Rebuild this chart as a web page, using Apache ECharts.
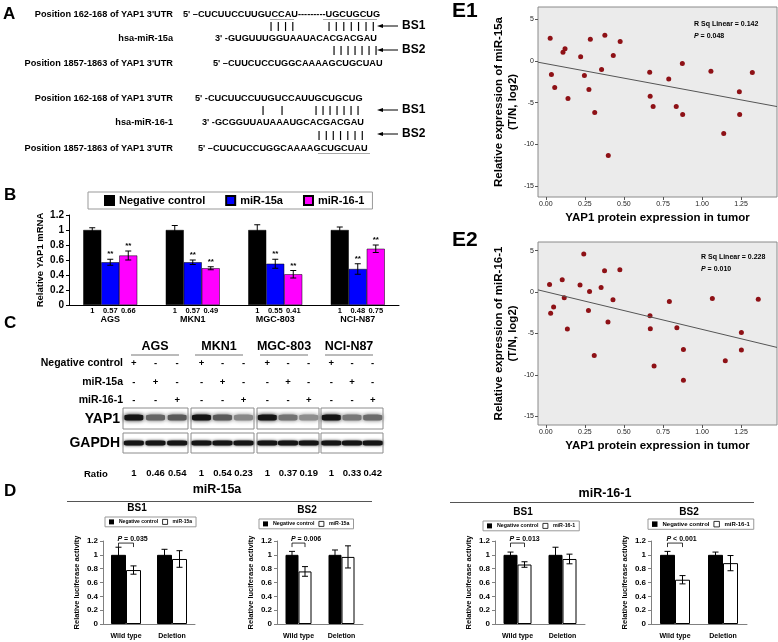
<!DOCTYPE html>
<html>
<head>
<meta charset="utf-8">
<script src="https://cdn.jsdelivr.net/npm/echarts@6/dist/echarts.min.js"></script>
<style>
  html, body { margin: 0; padding: 0; background: #fff; }
  #main { width: 778px; height: 642px; }
</style>
</head>
<body>
<div id="main"></div>
<script>
// ---- panel A: sequences ----
const seqRows = [
  ["Position 162-168 of YAP1 3'UTR", "5' \u2013CUCUUCCUUGUCCAU---------UGCUGCUG"],
  ["hsa-miR-15a", "3' -GUGUUUGGUAAUACACGACGAU"],
  ["Position 1857-1863 of YAP1 3'UTR", "5' \u2013CUUCUCCUGGCAAAAGCUGCUAU"],
  ["Position 162-168 of YAP1 3'UTR", "5' -CUCUUCCUUGUCCAUUGCUGCUG"],
  ["hsa-miR-16-1", "3' -GCGGUUAUAAAUGCACGACGAU"],
  ["Position 1857-1863 of YAP1 3'UTR", "5' \u2013CUUCUCCUGGCAAAAGCUGCUAU"]
];
const siteLabels = ["BS1", "BS2", "BS1", "BS2"];

// ---- panel B: qPCR ----
const cellLines = ["AGS", "MKN1", "MGC-803", "NCI-N87"];
const groupNames = ["Negative control", "miR-15a", "miR-16-1"];
const mrnaNC = [1, 1, 1, 1];
const mrna15a = [0.57, 0.57, 0.55, 0.48];
const mrna16 = [0.66, 0.49, 0.41, 0.75];
const errNC = [0.03, 0.06, 0.07, 0.04];
const err15a = [0.04, 0.03, 0.06, 0.07];
const err16 = [0.06, 0.02, 0.05, 0.05];

// ---- panel C: western blot ----
const treatRows = ["Negative control", "miR-15a", "miR-16-1"];
const treatSigns = [["+", "-", "-"], ["-", "+", "-"], ["-", "-", "+"]];
const yapRatio = [[1, 0.46, 0.54], [1, 0.54, 0.23], [1, 0.37, 0.19], [1, 0.33, 0.42]];

// ---- panel D: luciferase ----
const lucCats = ["Wild type", "Deletion"];
const lucHeads = ["miR-15a", "miR-16-1"];
const lucSite = ["BS1", "BS2", "BS1", "BS2"];
const lucMiRName = ["miR-15a", "miR-15a", "miR-16-1", "miR-16-1"];
const lucNC = [[1, 1], [1, 1], [1, 1], [1, 1]];
const lucNCErr = [[0.11, 0.08], [0.05, 0.07], [0.04, 0.11], [0.05, 0.04]];
const lucMiR = [[0.78, 0.94], [0.76, 0.97], [0.86, 0.94], [0.64, 0.88]];
const lucMiRErr = [[0.06, 0.12], [0.07, 0.16], [0.04, 0.07], [0.06, 0.11]];
const lucP = ["= 0.035", "= 0.006", "= 0.013", "< 0.001"];

// ---- panel E: correlation ----
const yapProt1 = [0.028, 0.036, 0.057, 0.11, 0.123, 0.142, 0.223, 0.247, 0.276, 0.285, 0.313, 0.357, 0.378, 0.40,
  0.432, 0.476, 0.665, 0.668, 0.687, 0.787, 0.835, 0.874, 0.876, 1.057, 1.139, 1.239, 1.241, 1.322];
const mir15a = [2.71, -1.64, -3.19, 1.04, 1.44, -4.51, 0.48, -1.76, -3.43, 2.59, -6.19, -1.04, 3.07, -11.34,
  0.64, 2.32, -1.36, -4.23, -5.47, -2.16, -5.47, -0.32, -6.43, -1.24, -8.70, -3.71, -6.43, -1.40];
const yapProt2 = [0.024, 0.031, 0.050, 0.105, 0.118, 0.138, 0.219, 0.243, 0.273, 0.280, 0.310, 0.354, 0.376, 0.398,
  0.430, 0.474, 0.667, 0.669, 0.693, 0.791, 0.839, 0.881, 0.881, 1.066, 1.149, 1.252, 1.252, 1.36];
const mir161 = [0.93, -2.54, -1.81, 1.49, -0.68, -4.47, 0.85, 4.59, -2.21, 0.08, -7.65, 0.56, 2.58, -3.62,
  -0.93, 2.70, -2.86, -4.43, -8.93, -1.13, -4.31, -6.92, -10.66, -0.76, -8.29, -4.87, -7.00, -0.85];
const fit1 = [[-0.05, -0.16], [1.48, -5.47]];
const fit2 = [[-0.05, 0.27], [1.48, -6.68]];
const eStats = [["R Sq Linear = 0.142", "= 0.048"], ["R Sq Linear = 0.228", "= 0.010"]];
const eTicksX = [0, 0.25, 0.5, 0.75, 1, 1.25];
const eTicksY = [-15, -10, -5, 0, 5];

const FONT = '"Liberation Sans", Arial, Helvetica, sans-serif';

function T(x, y, text, size, o) {
  o = o || {};
  const st = {
    text: text, x: x, y: y, fill: o.color || '#000',
    font: (o.italic ? 'italic ' : '') + (o.weight || 'bold') + ' ' + size + 'px ' + FONT,
    textAlign: o.align || 'left', textVerticalAlign: o.valign || 'middle'
  };
  if (text.indexOf('{i|') >= 0) {
    st.rich = { i: { fontStyle: 'italic', fontWeight: 'bold', fontSize: size, fontFamily: FONT } };
  }
  return { type: 'text', silent: true, z: 20, style: st };
}
function L(x1, y1, x2, y2, color, w) {
  return { type: 'line', silent: true, z: 20, shape: { x1: x1, y1: y1, x2: x2, y2: y2 },
    style: { stroke: color || '#000', lineWidth: w || 1 } };
}

// error bars drawn on top of grouped bars
function errSeries(axis, means, errs, offset, cap, star) {
  return {
    type: 'custom', xAxisIndex: axis, yAxisIndex: axis, silent: true, z: 5,
    data: means.map((m, i) => [i, m, errs[i]]),
    renderItem: function (params, api) {
      const c = api.value(0), m = api.value(1), e = api.value(2);
      const x = api.coord([c, m])[0] + offset;
      const yt = api.coord([c, m + e])[1], yb = api.coord([c, m - e])[1];
      const st = { stroke: '#000', lineWidth: 1 };
      const kids = [
        { type: 'line', shape: { x1: x, y1: yt, x2: x, y2: yb }, style: st },
        { type: 'line', shape: { x1: x - cap, y1: yt, x2: x + cap, y2: yt }, style: st },
        { type: 'line', shape: { x1: x - cap, y1: yb, x2: x + cap, y2: yb }, style: st }
      ];
      if (star) {
        kids.push({ type: 'text', style: { text: '**', x: x, y: yt - 1, textAlign: 'center',
          textVerticalAlign: 'bottom', font: 'bold 8px ' + FONT, fill: '#000' } });
      }
      return { type: 'group', children: kids };
    }
  };
}

const grids = [], xAxes = [], yAxes = [], series = [], legends = [], g = [];

// ---------- B ----------
grids.push({ left: 69, top: 215, width: 330, height: 90 });
xAxes.push({ gridIndex: 0, type: 'category', data: cellLines,
  axisLine: { lineStyle: { color: '#000' } }, axisTick: { length: 3, lineStyle: { color: '#000' } },
  axisLabel: { interval: 0, margin: 10, fontSize: 9, fontWeight: 'bold', color: '#000', fontFamily: FONT } });
yAxes.push({ gridIndex: 0, type: 'value', min: 0, max: 1.2, interval: 0.2,
  axisLine: { show: true, lineStyle: { color: '#000' } }, axisTick: { show: true, length: 3, lineStyle: { color: '#000' } },
  splitLine: { show: false },
  axisLabel: { fontSize: 10, fontWeight: 'bold', color: '#000', margin: 5, fontFamily: FONT },
  name: 'Relative YAP1 mRNA', nameLocation: 'middle', nameGap: 24,
  nameTextStyle: { fontSize: 9.5, fontWeight: 'bold', color: '#000', fontFamily: FONT } });
const bColors = ['#000000', '#0000ff', '#ff00ff'];
const bMeans = [mrnaNC, mrna15a, mrna16];
const bErrs = [errNC, err15a, err16];
const bBarW = 18;
bMeans.forEach((m, i) => {
  series.push({ type: 'bar', name: groupNames[i], xAxisIndex: 0, yAxisIndex: 0, data: m,
    barWidth: bBarW, barGap: '0%', itemStyle: { color: bColors[i], borderColor: '#000', borderWidth: 0.5 },
    label: { show: true, position: 'bottom', distance: 2, formatter: p => String(p.value),
      fontSize: 7.5, fontWeight: 'bold', color: '#000', fontFamily: FONT } });
});
bMeans.forEach((m, i) => series.push(errSeries(0, m, bErrs[i], (i - 1) * bBarW, 3, i > 0)));
legends.push({ left: 88, top: 192, data: groupNames, icon: 'rect', itemWidth: 9, itemHeight: 9, itemGap: 20,
  selectedMode: false, padding: [3, 8, 3, 16], borderColor: '#999', borderWidth: 1,
  textStyle: { fontSize: 11, fontWeight: 'bold', color: '#000', fontFamily: FONT } });

// ---------- C ----------
const blotBox = [[123, 65], [191, 63], [257, 62], [321, 62]];
function bandColor(r) {
  const v = Math.round(20 + (1 - r) * 150);
  return 'rgb(' + v + ',' + v + ',' + v + ')';
}
blotBox.forEach((b, k) => {
  const gi = grids.length;
  grids.push({ left: b[0], top: 408, width: b[1], height: 21, show: true, borderColor: '#8c8c8c',
    borderWidth: 1, backgroundColor: '#fff' });
  xAxes.push({ gridIndex: gi, type: 'category', data: ['a', 'b', 'c'], show: false });
  yAxes.push({ gridIndex: gi, type: 'value', min: 0, max: 1, show: false });
  series.push({ type: 'scatter', name: 'yap-band', xAxisIndex: gi, yAxisIndex: gi, silent: true,
    symbol: 'roundRect', symbolSize: [19, 6],
    data: yapRatio[k].map((r, j) => ({ value: [j, 0.55], itemStyle: { color: bandColor(r), opacity: 1,
      shadowBlur: 4, shadowColor: bandColor(r) } })) });
});
blotBox.forEach((b, k) => {
  const gi = grids.length;
  grids.push({ left: b[0], top: 433, width: b[1], height: 20, show: true, borderColor: '#8c8c8c',
    borderWidth: 1, backgroundColor: '#fff' });
  xAxes.push({ gridIndex: gi, type: 'category', data: yapRatio[k].map(String),
    axisLine: { show: false }, axisTick: { show: false },
    axisLabel: { interval: 0, margin: 15, fontSize: 9.5, fontWeight: 'bold', color: '#000', fontFamily: FONT } });
  yAxes.push({ gridIndex: gi, type: 'value', min: 0, max: 1, show: false });
  series.push({ type: 'scatter', name: 'gapdh-band', xAxisIndex: gi, yAxisIndex: gi, silent: true,
    symbol: 'roundRect', symbolSize: [20, 5],
    data: yapRatio[k].map((r, j) => ({ value: [j, 0.5], itemStyle: { color: '#151515', opacity: 1,
      shadowBlur: 3, shadowColor: '#333' } })) });
});

// ---------- D ----------
const lucGrid = [[103, 92, 15], [277, 86, 13], [495, 90, 14], [651, 96, 15]];
const lucLegend = [[105, 517, 5, 5], [259, 519, 5.3, 5], [483, 521, 5.3, 5], [648, 519, 6, 5.5]];
const bracketLevel = 1.17;
lucGrid.forEach((d, k) => {
  const gi = grids.length;
  const bw = d[2];
  grids.push({ left: d[0], top: 541, width: d[1], height: 83 });
  xAxes.push({ gridIndex: gi, type: 'category', data: lucCats,
    axisLine: { lineStyle: { color: '#808080' } }, axisTick: { length: 3, lineStyle: { color: '#808080' } },
    axisLabel: { interval: 0, margin: 9, fontSize: 7, fontWeight: 'bold', color: '#000', fontFamily: FONT } });
  yAxes.push({ gridIndex: gi, type: 'value', min: 0, max: 1.2, interval: 0.2,
    axisLine: { show: true, lineStyle: { color: '#808080' } },
    axisTick: { show: true, length: 3, lineStyle: { color: '#808080' } }, splitLine: { show: false },
    axisLabel: { fontSize: 8, fontWeight: 'bold', color: '#000', margin: 5, fontFamily: FONT },
    name: 'Relative luciferase activity', nameLocation: 'middle', nameGap: 22,
    nameTextStyle: { fontSize: 7.5, fontWeight: 'bold', color: '#000', fontFamily: FONT } });
  series.push({ type: 'bar', name: 'Negative control', xAxisIndex: gi, yAxisIndex: gi, data: lucNC[k],
    barWidth: bw, barGap: '0%', itemStyle: { color: '#000', borderColor: '#000', borderWidth: 1 } });
  series.push({ type: 'bar', name: lucMiRName[k], xAxisIndex: gi, yAxisIndex: gi, data: lucMiR[k],
    barWidth: bw, barGap: '0%', itemStyle: { color: '#fff', borderColor: '#000', borderWidth: 1 } });
  series.push(errSeries(gi, lucNC[k], lucNCErr[k], -bw / 2, 3, false));
  series.push(errSeries(gi, lucMiR[k], lucMiRErr[k], bw / 2, 3, false));
  series.push({ type: 'custom', xAxisIndex: gi, yAxisIndex: gi, silent: true, z: 6,
    data: [[0, bracketLevel]],
    renderItem: function (params, api) {
      const c = api.coord([api.value(0), api.value(1)]);
      const x1 = c[0] - bw / 2, x2 = c[0] + bw / 2, y = c[1];
      return { type: 'group', children: [
        { type: 'polyline', shape: { points: [[x1, y + 4], [x1, y], [x2, y], [x2, y + 4]] },
          style: { stroke: '#000', fill: 'none', lineWidth: 0.8 } },
        { type: 'text', style: { text: '{i|P} ' + lucP[k], x: x1 - 1, y: y - 1, textAlign: 'left',
          textVerticalAlign: 'bottom', font: 'bold 7px ' + FONT, fill: '#000',
          rich: { i: { fontStyle: 'italic', fontWeight: 'bold', fontSize: 7, fontFamily: FONT } } } }
      ] };
    } });
  const lg = lucLegend[k];
  legends.push({ left: lg[0], top: lg[1], icon: 'rect', itemWidth: lg[3], itemHeight: lg[3], itemGap: 4,
    selectedMode: false, padding: [2, 4, 2, 4], borderColor: '#999', borderWidth: 1,
    textStyle: { fontSize: lg[2], fontWeight: 'bold', color: '#000', fontFamily: FONT },
    data: [{ name: 'Negative control', itemStyle: { color: '#000', borderWidth: 0 } },
      { name: lucMiRName[k], itemStyle: { color: '#fff', borderColor: '#000', borderWidth: 0.8 } }] });
});

// ---------- E ----------
const eGrid = [[7, 190, -16.3, 6.45], [242, 183, -16.05, 6.05]];
const eX = [yapProt1, yapProt2], eY = [mir15a, mir161], eFit = [fit1, fit2];
const eName = ['Relative expression of miR-15a\n(T/N, log2)', 'Relative expression of miR-16-1\n(T/N, log2)'];
eGrid.forEach((d, k) => {
  const gi = grids.length;
  grids.push({ left: 538, top: d[0], width: 239, height: d[1], show: true, backgroundColor: '#ebebeb',
    borderColor: '#8a8a8a', borderWidth: 1 });
  xAxes.push({ gridIndex: gi, type: 'value', min: -0.05, max: 1.48, position: 'bottom',
    axisLine: { show: false, onZero: false }, splitLine: { show: false },
    axisTick: { show: true, customValues: eTicksX, length: 3, lineStyle: { color: '#555' } },
    axisLabel: { customValues: eTicksX, formatter: v => v.toFixed(2), fontSize: 7, color: '#222',
      margin: 4, fontFamily: FONT },
    name: 'YAP1 protein expression in tumor', nameLocation: 'middle', nameGap: 15,
    nameTextStyle: { fontSize: 11.5, fontWeight: 'bold', color: '#000', fontFamily: FONT } });
  yAxes.push({ gridIndex: gi, type: 'value', min: d[2], max: d[3], position: 'left',
    axisLine: { show: false, onZero: false }, splitLine: { show: false },
    axisTick: { show: true, customValues: eTicksY, length: 3, lineStyle: { color: '#555' } },
    axisLabel: { customValues: eTicksY, fontSize: 7, color: '#222', margin: 4, fontFamily: FONT },
    name: eName[k], nameLocation: 'middle', nameGap: 16,
    nameTextStyle: { fontSize: 11.5, fontWeight: 'bold', color: '#000', lineHeight: 14, fontFamily: FONT } });
  series.push({ type: 'scatter', name: 'pts' + k, xAxisIndex: gi, yAxisIndex: gi, symbolSize: 5,
    itemStyle: { color: '#8e1116', opacity: 1 }, data: eX[k].map((x, i) => [x, eY[k][i]]) });
  series.push({ type: 'line', name: 'fit' + k, xAxisIndex: gi, yAxisIndex: gi, data: eFit[k], symbol: 'none',
    lineStyle: { color: '#555', width: 1 }, silent: true });
});

// ---------- graphic text ----------
// panel letters
g.push(T(3, 14, 'A', 17), T(4, 195, 'B', 17), T(4, 323, 'C', 17), T(4, 491, 'D', 17));
g.push(T(452, 11, 'E1', 21), T(452, 240, 'E2', 21));

// A
const seqY = [14, 38, 63, 98, 122, 148];
const seqX = [183, 215, 213, 195, 202, 198];
seqRows.forEach((r, i) => {
  g.push(T(173, seqY[i], r[0], 9.2, { align: 'right' }));
  g.push(T(seqX[i], seqY[i], r[1], 9.2));
});
const pairRows = [
  [26, [[271, 4, 7.3], [329, 7, 7.4]]],
  [50, [[334, 7, 7.0]]],
  [110, [[263, 1, 0], [282, 1, 0], [316, 7, 7.0]]],
  [135, [[319, 7, 7.2]]]
];
pairRows.forEach(pr => pr[1].forEach(s => {
  for (let j = 0; j < s[1]; j++) g.push(T(s[0] + j * s[2], pr[0], '|', 9.2, { align: 'center' }));
}));
[26, 50, 110, 134].forEach((y, i) => {
  g.push(L(381, y, 398, y, '#000', 1));
  g.push({ type: 'polygon', silent: true, z: 20, shape: { points: [[377, y], [383, y - 2], [383, y + 2]] },
    style: { fill: '#000' } });
  g.push(T(402, y, siteLabels[i], 12));
});
g.push(L(270, 19.5, 294, 19.5, '#aaa'), L(323, 19.5, 377, 19.5, '#aaa'), L(318, 153.5, 370, 153.5, '#aaa'));

// C
const hdrX = [155, 219, 284, 349];
cellLines.forEach((n, k) => {
  g.push(T(hdrX[k], 347, n, 12.5, { align: 'center' }));
  g.push(L(hdrX[k] - 24, 355, hdrX[k] + 24, 355, '#777', 1));
});
const treatY = [363, 382, 400];
treatRows.forEach((n, r) => {
  g.push(T(123, treatY[r], n, 10.5, { align: 'right' }));
  blotBox.forEach(b => {
    for (let j = 0; j < 3; j++) {
      g.push(T(b[0] + (j + 0.5) * b[1] / 3, treatY[r], treatSigns[r][j], 9.5, { align: 'center' }));
    }
  });
});
g.push(T(120, 419, 'YAP1', 14, { align: 'right' }), T(120, 443, 'GAPDH', 14, { align: 'right' }));
g.push(T(84, 474, 'Ratio', 9.5));

// D
g.push(T(217, 490, lucHeads[0], 12.5, { align: 'center' }), L(67, 501.5, 372, 501.5, '#555'));
g.push(T(605, 494, lucHeads[1], 12.5, { align: 'center' }), L(450, 502.5, 754, 502.5, '#555'));
const siteX = [[137, 508], [307, 510], [523, 512], [689, 512]];
siteX.forEach((p, k) => g.push(T(p[0], p[1], lucSite[k], 10, { align: 'center' })));

// E annotations
const statPos = [[694, 24, 36], [701, 257, 269]];
statPos.forEach((p, k) => {
  g.push(T(p[0], p[1], eStats[k][0], 7));
  g.push(T(p[0], p[2], '{i|P} ' + eStats[k][1], 7));
});

const chart = echarts.init(document.getElementById('main'));
chart.setOption({
  animation: false,
  backgroundColor: '#fff',
  textStyle: { fontFamily: FONT },
  grid: grids, xAxis: xAxes, yAxis: yAxes, series: series, legend: legends, graphic: g
});
</script>
</body>
</html>
